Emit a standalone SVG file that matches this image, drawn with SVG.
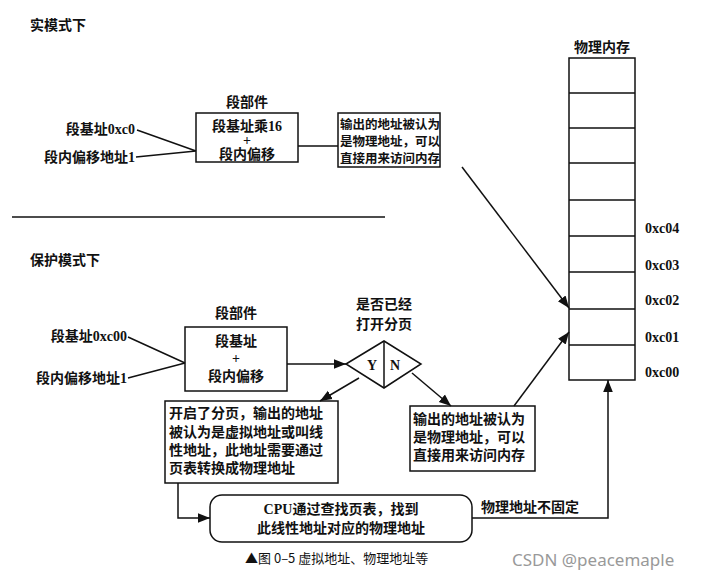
<svg xmlns="http://www.w3.org/2000/svg" width="711" height="581" viewBox="0 0 711 581">
<defs>
<marker id="a" viewBox="0 0 10 10" refX="10" refY="5" markerWidth="8" markerHeight="8" orient="auto"><path d="M0,1 L10,5 L0,9 z" fill="#111"/></marker>
<style>
text{font-family:"Liberation Serif","Noto Sans CJK SC",serif;font-size:14px;font-weight:bold;fill:#111;text-anchor:middle}
.l{text-anchor:start}.e{text-anchor:end}
.s{font-size:12.5px}
.b{fill:#fff;stroke:#111;stroke-width:1.5}
.c{stroke:#111;stroke-width:1.5;fill:none}
</style>
</defs>
<rect width="711" height="581" fill="#fff"/>
<text class="l" x="30" y="30">实模式下</text>
<text class="l" x="30" y="265">保护模式下</text>
<line x1="12" y1="217" x2="385" y2="217" stroke="#111" stroke-width="1.5"/>
<g id="mem">
<text x="602" y="52">物理内存</text>
<rect class="b" x="569" y="58" width="66" height="322"/>
<path class="c" d="M569,93H635M569,128H635M569,163H635M569,200H635M569,236H635M569,272H635M569,309H635M569,345H635"/>
<text class="l" x="645" y="233">0xc04</text>
<text class="l" x="645" y="270">0xc03</text>
<text class="l" x="645" y="305">0xc02</text>
<text class="l" x="645" y="342">0xc01</text>
<text class="l" x="645" y="377">0xc00</text>
</g>
<g id="real-in">
<text class="e" x="135" y="134">段基址0xc0</text>
<text class="e" x="135" y="162">段内偏移地址1</text>
</g>
<g id="real-seg">
<text x="247" y="107">段部件</text>
<rect class="b" x="196" y="113" width="102" height="49"/>
<text x="247" y="131">段基址乘16</text>
<text x="247" y="145">+</text>
<text x="247" y="159">段内偏移</text>
</g>
<g id="real-out">
<rect class="b" x="338" y="113" width="102" height="54"/>
<text class="l s" x="340" y="129">输出的地址被认为</text>
<text class="l s" x="340" y="146">是物理地址，可以</text>
<text class="l s" x="340" y="163">直接用来访问内存</text>
</g>
<g id="prot-in">
<text class="e" x="127" y="341">段基址0xc00</text>
<text class="e" x="127" y="383">段内偏移地址1</text>
</g>
<g id="prot-seg">
<text x="236" y="318">段部件</text>
<rect class="b" x="185" y="327" width="102" height="64"/>
<text x="236" y="346">段基址</text>
<text x="236" y="363">+</text>
<text x="236" y="381">段内偏移</text>
</g>
<g id="decide">
<text x="384" y="309">是否已经</text>
<text x="384" y="329">打开分页</text>
<path class="b" d="M346,364 L384,341 L421,364 L384,388 z"/>
<line x1="384" y1="341" x2="384" y2="388" stroke="#111" stroke-width="1.5"/>
<text x="372" y="370">Y</text>
<text x="395" y="370">N</text>
</g>
<g id="paging">
<rect class="b" x="165" y="401" width="173" height="82"/>
<text class="l" x="169" y="418">开启了分页，输出的地址</text>
<text class="l" x="169" y="437">被认为是虚拟地址或叫线</text>
<text class="l" x="169" y="455">性地址，此地址需要通过</text>
<text class="l" x="169" y="473">页表转换成物理地址</text>
</g>
<g id="nopaging">
<rect class="b" x="410" y="406" width="125" height="65"/>
<text class="l" x="413" y="424">输出的地址被认为</text>
<text class="l" x="413" y="442">是物理地址，可以</text>
<text class="l" x="413" y="460">直接用来访问内存</text>
</g>
<g id="cpu">
<rect class="b" x="210" y="495" width="262" height="47" rx="12"/>
<text x="341" y="514">CPU通过查找页表，找到</text>
<text x="341" y="533">此线性地址对应的物理地址</text>
</g>
<g id="connectors">
<path class="c" d="M137,130 L196,151 M136,157 L196,151 M298,146 H338"/>
<path class="c" d="M462,167 L569,308" marker-end="url(#a)"/>
<path class="c" d="M128,337 L185,363 M128,378 L185,363"/>
<path class="c" d="M287,364 H346" marker-end="url(#a)"/>
<path class="c" d="M359,378 L320,401" marker-end="url(#a)"/>
<path class="c" d="M412,373 L451,406" marker-end="url(#a)"/>
<path class="c" d="M514,406 L569,332" marker-end="url(#a)"/>
<path class="c" d="M178,483 V518 H210" marker-end="url(#a)"/>
<path class="c" d="M472,518 H608 V380" marker-end="url(#a)"/>
<text class="l" x="481" y="512">物理地址不固定</text>
</g>
<text class="l" x="245" y="563" style="font-weight:normal;font-family:'Noto Sans CJK SC',sans-serif;font-size:13px">▲图 0–5   虚拟地址、物理地址等</text>
<text class="l" x="512" y="566" style="font-weight:normal;font-family:'Noto Sans',sans-serif;font-size:17px;fill:#999">CSDN @peacemaple</text>
</svg>
